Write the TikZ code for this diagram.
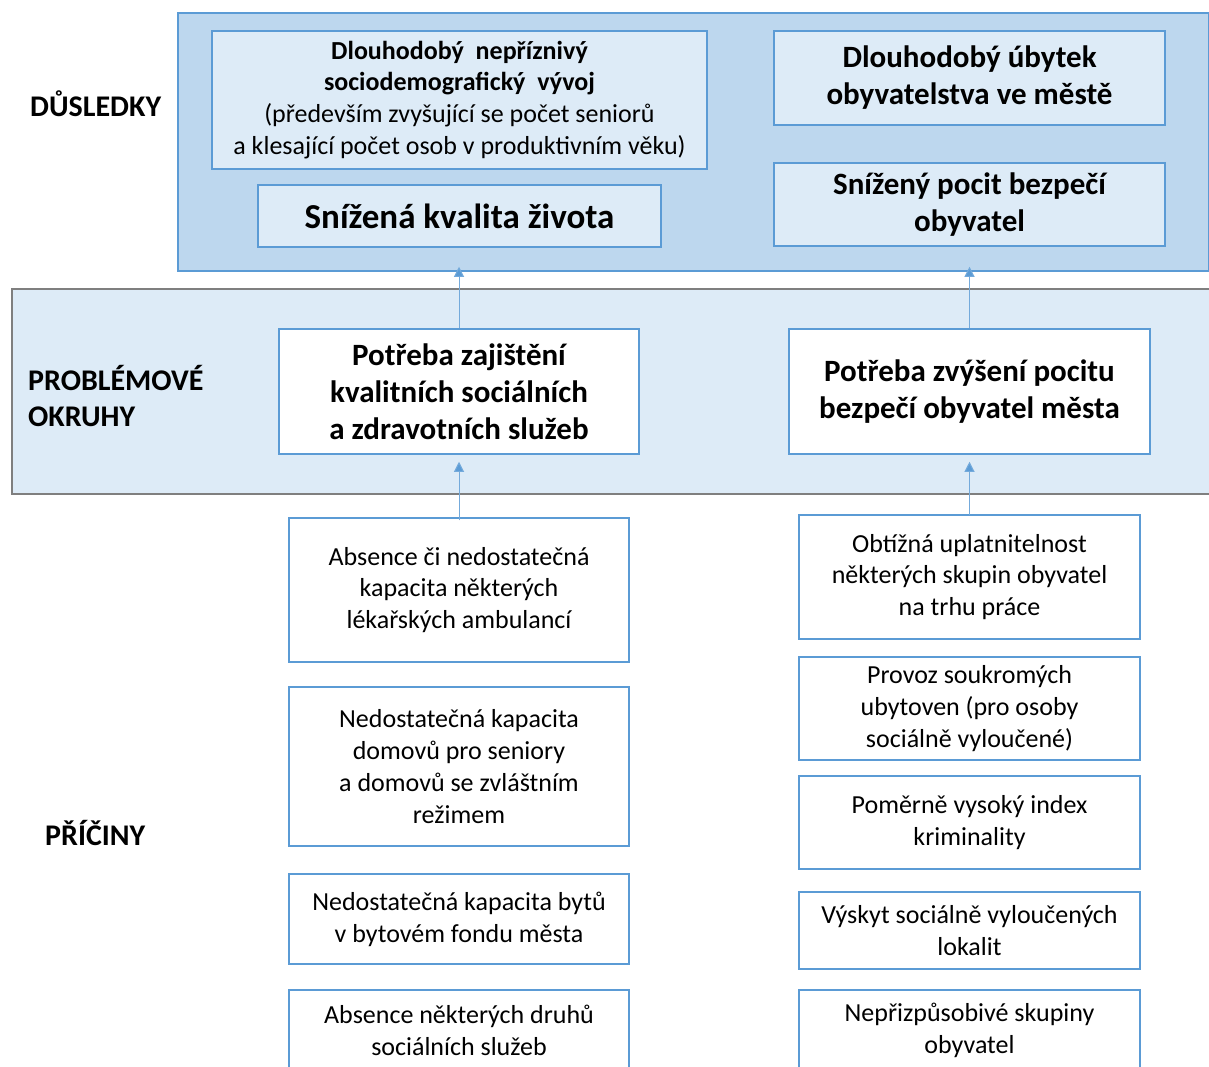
\documentclass[tikz,border=0pt]{standalone}
\usepackage{fontspec}
\setmainfont{Carlito}
\usetikzlibrary{arrows.meta}
\definecolor{rambl}{HTML}{5B9BD5}
\definecolor{pasmo}{HTML}{BDD7EE}
\definecolor{svetle}{HTML}{DDEBF7}
\definecolor{sedy}{HTML}{7F7F7F}
\tikzset{
  pasmobox/.style={draw=rambl, line width=1.5pt, fill=pasmo, inner sep=0pt},
  dusbox/.style={draw=rambl, line width=1.5pt, fill=svetle, inner sep=0pt, align=center},
  potbox/.style={draw=rambl, line width=1.5pt, fill=white, inner sep=0pt, align=center,
    font=\bfseries\fontsize{31}{37}\selectfont},
  pricbox/.style={draw=rambl, line width=1.5pt, fill=white, inner sep=0pt, align=center,
    minimum width=340, font=\fontsize{26}{31.8}\selectfont},
  popis/.style={anchor=west, inner sep=0pt, align=left, font=\bfseries\fontsize{30}{36}\selectfont},
  sipka/.style={draw=rambl!85, line width=1pt, -{Triangle[length=10pt,width=10pt,fill=rambl]}}
}
\begin{document}
\begin{tikzpicture}[x=1pt,y=1pt,yscale=-1]
\clip (0,0) rectangle (1209,1066);
\fill[white] (0,0) rectangle (1209,1066);
%Shape: Rectangle (DUSLEDKY)
\node[pasmobox, minimum width=1031, minimum height=258] (dus) at (693.5,142) {};
%Shape: Rectangle (PROBLEMOVE OKRUHY)
\node[pasmobox, draw=sedy, fill=svetle, minimum width=1200, minimum height=205] (prob) at (612,391.5) {};
% Text Node
\node[popis] (ldus) at (30,104) {DŮSLEDKY};
\node[popis] (lprob) at (28,396) {PROBLÉMOVÉ\\OKRUHY};
\node[popis] (lpric) at (45,833) {PŘÍČINY};
% Dusledky
\node[dusbox, minimum width=495, minimum height=138, font=\fontsize{26}{31.8}\selectfont] (vyvoj) at (459.5,100)
  {\textbf{Dlouhodobý\ \ nepříznivý}\\\textbf{sociodemografický\ \ vývoj}\\(především zvyšující se počet seniorů\\a klesající počet osob v produktivním věku)};
\node[dusbox, minimum width=403, minimum height=62, font=\bfseries\fontsize{35}{40}\selectfont] (kvalita) at (459.5,216)
  {Snížená kvalita života};
\node[dusbox, minimum width=391, minimum height=94, font=\bfseries\fontsize{31}{37}\selectfont] (ubytek) at (969.5,78)
  {Dlouhodobý úbytek\\obyvatelstva ve městě};
\node[dusbox, minimum width=391, minimum height=83, font=\bfseries\fontsize{31}{37}\selectfont] (pocit) at (969.5,204.5)
  {Snížený pocit bezpečí\\obyvatel};
% Problemove okruhy
\node[potbox, minimum width=360, minimum height=125] (sluzby) at (459,391.5)
  {Potřeba zajištění\\kvalitních sociálních\\a zdravotních služeb};
\node[potbox, minimum width=361, minimum height=125] (bezpeci) at (969.5,391.5)
  {Potřeba zvýšení pocitu\\bezpečí obyvatel města};
% Priciny vlevo
\node[pricbox, minimum height=144] (ambul) at (459,590)
  {Absence či nedostatečná\\kapacita některých\\lékařských ambulancí};
\node[pricbox, minimum height=159] (domovy) at (459,766.5)
  {Nedostatečná kapacita\\domovů pro seniory\\a domovů se zvláštním\\režimem};
\node[pricbox, minimum height=90] (byty) at (459,919)
  {Nedostatečná kapacita bytů\\v bytovém fondu města};
\node[pricbox, minimum height=80] (druhy) at (459,1030)
  {Absence některých druhů\\sociálních služeb};
% Priciny vpravo
\node[pricbox, minimum width=341, minimum height=124] (prace) at (969.5,577)
  {Obtížná uplatnitelnost\\některých skupin obyvatel\\na trhu práce};
\node[pricbox, minimum width=341, minimum height=103] (ubyt) at (969.5,708.5)
  {Provoz soukromých\\ubytoven (pro osoby\\sociálně vyloučené)};
\node[pricbox, minimum width=341, minimum height=93] (krimi) at (969.5,822.5)
  {Poměrně vysoký index\\kriminality};
\node[pricbox, minimum width=341, minimum height=77] (lokal) at (969.5,930.5)
  {Výskyt sociálně vyloučených\\lokalit};
\node[pricbox, minimum width=341, minimum height=80] (skup) at (969.5,1030)
  {Nepřizpůsobivé skupiny\\obyvatel};
% Sipky
\draw[sipka, shorten <=-3pt, shorten >=7pt] (ambul.north) -- (sluzby.south);
\draw[sipka, shorten <=-1pt, shorten >=7pt] (prace.north) -- (bezpeci.south);
\draw[sipka, shorten >=-5pt] (sluzby.north) -- (sluzby.north |- dus.south);
\draw[sipka, shorten >=-5pt] (bezpeci.north) -- (bezpeci.north |- dus.south);
\end{tikzpicture}
\end{document}
